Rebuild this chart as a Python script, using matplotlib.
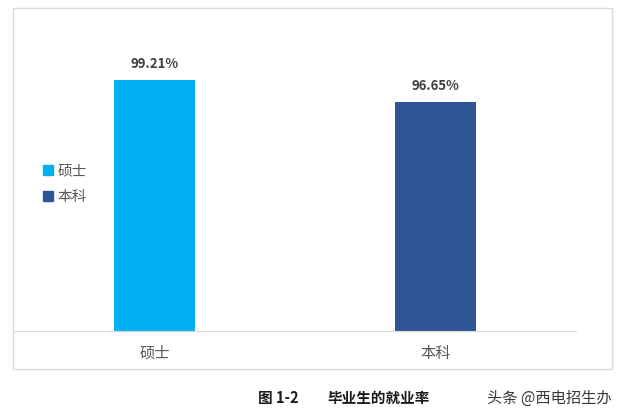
import matplotlib.pyplot as plt
from matplotlib.patches import Rectangle

plt.rcParams['font.family'] = ['Noto Sans CJK SC', 'DejaVu Sans']

# data
categories = ["硕士", "本科"]
rates = [99.21, 96.65]
labels = ["99.21%", "96.65%"]
colors = ["#00B0F0", "#2F5597"]

fig = plt.figure(figsize=(6.31, 4.19), dpi=100)

# chart frame
fig.patches.append(Rectangle((13 / 631, 1 - 369 / 419), 599 / 631, 361 / 419,
                             transform=fig.transFigure, fill=False,
                             edgecolor="#d9d9d9", linewidth=1))

ax = fig.add_axes([14 / 631, 1 - 331 / 419, 562 / 631, 258 / 419])
bars = ax.bar(range(len(categories)), rates, width=0.29, color=colors)
ax.set_xlim(-0.5, 1.5)
ax.set_ylim(70, 100)

for b, lab in zip(bars, labels):
    ax.text(b.get_x() + b.get_width() / 2, b.get_height() + 1.0, lab,
            ha="center", va="bottom", fontsize=9.5, fontweight="bold",
            color="#404040", clip_on=False)

ax.set_xticks(range(len(categories)))
ax.set_xticklabels(categories, fontsize=11, color="#595959", fontweight="medium")
ax.tick_params(axis="x", length=0, pad=10)
ax.set_yticks([])
for s in ["top", "right", "left"]:
    ax.spines[s].set_visible(False)
ax.spines["bottom"].set_color("#d9d9d9")

# legend
handles = [Rectangle((0, 0), 1, 1, color=c) for c in colors]
fig.legend(handles, categories, loc="center left",
           bbox_to_anchor=(30 / 631, 1 - 184 / 419), frameon=False,
           handlelength=0.7, handleheight=0.7, handletextpad=0.3,
           labelspacing=0.8, prop={"size": 10.5}, labelcolor="#595959")

# caption and watermark
fig.text(258 / 631, 1 - 398 / 419, "图 1-2", fontsize=10.5, fontweight="bold",
         va="center", ha="left", color="#1a1a1a")
fig.text(327 / 631, 1 - 398 / 419, "毕业生的就业率", fontsize=10.5, fontweight="bold",
         va="center", ha="left", color="#1a1a1a")
fig.text(487 / 631, 1 - 398 / 419, "头条 @西电招生办", fontsize=11,
         va="center", ha="left", color="#3a3a3a")

fig.savefig("out.png", dpi=100)
